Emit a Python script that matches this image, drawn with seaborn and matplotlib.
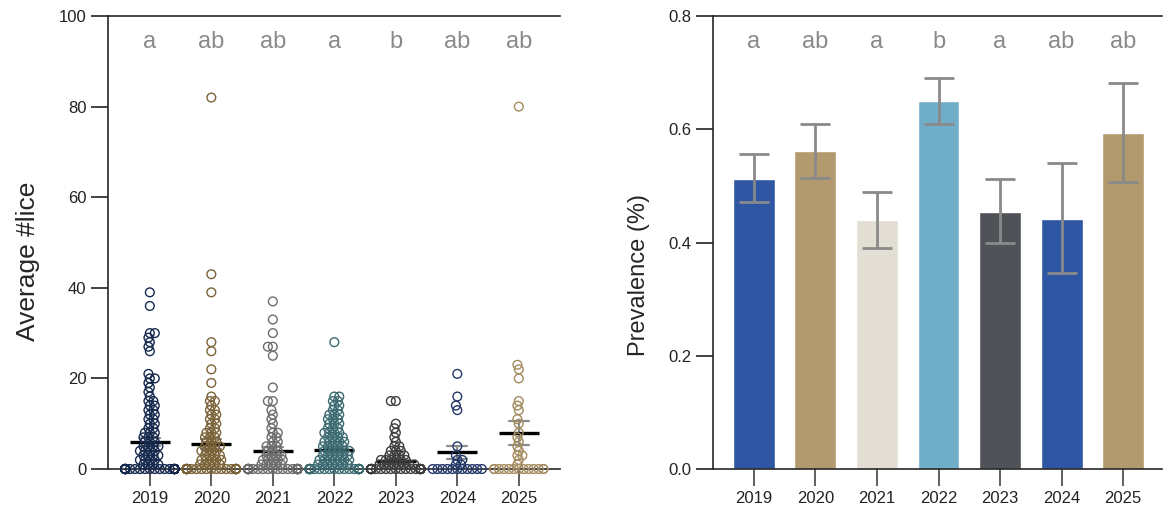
import numpy as np
import pandas as pd
import matplotlib
matplotlib.use("Agg")
import matplotlib.pyplot as plt
import seaborn as sns
import warnings

warnings.filterwarnings("ignore")

# =========================
# DATA
# =========================
years = ["2019", "2020", "2021", "2022", "2023", "2024", "2025"]

# lice counts per fish (zeros counted from the band width)
lice_2019 = [0] * 53 + [39, 36, 30, 30, 29, 28, 27, 26, 21, 20, 20, 19, 18, 17, 16, 15, 15,
                        14, 14, 13, 13, 12, 12, 11, 11, 10, 10, 9, 9, 8, 8, 8, 7, 7, 7,
                        6, 6, 6, 5, 5, 5, 5, 4, 4, 4, 4, 3, 3, 3, 3, 2, 2, 2, 2, 1, 1, 1, 1]
lice_2020 = [0] * 49 + [82, 43, 39, 28, 26, 22, 19, 16, 15, 15, 14, 13, 13, 12, 12, 11, 11,
                        10, 10, 9, 9, 8, 8, 8, 7, 7, 7, 6, 6, 6, 5, 5, 5, 5, 4, 4, 4, 4,
                        3, 3, 3, 3, 2, 2, 2, 2, 2, 1, 1, 1, 1, 1]
lice_2021 = [0] * 55 + [37, 33, 30, 27, 27, 25, 18, 15, 15, 13, 12, 11, 10, 9, 8, 8, 7, 7,
                        6, 6, 5, 5, 5, 4, 4, 4, 3, 3, 3, 3, 2, 2, 2, 2, 2, 1, 1, 1, 1, 1]
lice_2022 = [0] * 42 + [28, 16, 16, 15, 15, 14, 14, 13, 13, 12, 12, 12, 11, 11, 11, 10, 10, 10,
                        9, 9, 9, 8, 8, 8, 8, 7, 7, 7, 7, 6, 6, 6, 6, 6, 5, 5, 5, 5, 5,
                        4, 4, 4, 4, 4, 4, 3, 3, 3, 3, 3, 3, 2, 2, 2, 2, 2, 2, 2,
                        1, 1, 1, 1, 1, 1, 1]
lice_2023 = [0] * 39 + [15, 15, 10, 9, 8, 7, 6, 5, 5, 4, 4, 4, 3, 3, 3, 3, 2, 2, 2, 2, 2, 2,
                        1, 1, 1, 1, 1, 1, 1, 1]
lice_2024 = [0] * 11 + [21, 16, 14, 13, 5, 3, 2, 2, 1, 1]
lice_2025 = [0] * 13 + [80, 23, 22, 20, 15, 14, 13, 11, 10, 8, 7, 6, 5, 4, 3, 3, 2, 1]

letters_left = ["a", "ab", "ab", "a", "b", "ab", "ab"]

# prevalence with error bar ends
prevalence = [0.512, 0.562, 0.440, 0.650, 0.454, 0.442, 0.594]
prev_low = [0.472, 0.514, 0.390, 0.610, 0.400, 0.346, 0.506]
prev_high = [0.556, 0.610, 0.489, 0.690, 0.512, 0.541, 0.682]
letters_right = ["a", "ab", "a", "b", "a", "ab", "ab"]

point_colors = ["#15284d", "#7b6339", "#6d6d6d", "#3b6a71", "#3d3d3d", "#243769", "#a38b5f"]
bar_colors = ["#2e56a3", "#b39a6e", "#e2ded3", "#70aec8", "#4f5257", "#2e56a3", "#b39a6e"]

lice = pd.DataFrame({
    "year": np.repeat(years, [len(v) for v in [lice_2019, lice_2020, lice_2021, lice_2022,
                                                lice_2023, lice_2024, lice_2025]]),
    "lice": lice_2019 + lice_2020 + lice_2021 + lice_2022 + lice_2023 + lice_2024 + lice_2025,
})
prev = pd.DataFrame({"year": years, "prev": prevalence, "lo": prev_low, "hi": prev_high})

# =========================
# STYLE
# =========================
sns.set_style("ticks")
plt.rcParams["font.family"] = ["Liberation Sans", "DejaVu Sans"]
plt.rcParams["axes.linewidth"] = 1.2

fig = plt.figure(figsize=(11.64, 5.15), dpi=100)
ax1 = fig.add_axes([0.0928, 0.0893, 0.3883, 0.8796])
ax2 = fig.add_axes([0.6125, 0.0893, 0.3857, 0.8796])

# =========================
# LEFT: LICE SCATTER
# =========================
# swarm laid out with small markers so columns stay narrow (overlapping like the original)
sns.swarmplot(data=lice, x="year", y="lice", hue="year", palette=point_colors,
              order=years, size=3.4, legend=False, ax=ax1)
ax1.set_ylim(0, 100)
ax1.set_xlim(-0.68, 6.67)
fig.canvas.draw()
for coll in ax1.collections:
    if "draw" in coll.__dict__:
        del coll.draw
    fc = coll.get_facecolor()
    coll.set_facecolor("none")
    coll.set_edgecolor(fc)
    coll.set_linewidth(1.0)
    coll.set_sizes([6.3 ** 2])
    coll.set_clip_on(False)

sns.pointplot(data=lice, x="year", y="lice", order=years, errorbar="se", color="#8c8c8c",
              marker="", linestyle="none", capsize=0.33, err_kws={"linewidth": 1.6}, ax=ax1)
sns.pointplot(data=lice, x="year", y="lice", order=years, errorbar=None, color="black",
              marker="_", markersize=29, markeredgewidth=2.4, linestyle="none", ax=ax1)

ax1.set_ylim(0, 100)
ax1.set_xlim(-0.68, 6.67)
ax1.set_yticks(range(0, 101, 20))
ax1.set_ylabel("Average #lice", fontsize=19)
ax1.yaxis.set_label_coords(-0.150, 0.459)
ax1.set_xlabel("")
for i, t in enumerate(letters_left):
    ax1.text(i, 92.9, t, ha="center", va="baseline", fontsize=17, color="#8a8a8a")

# =========================
# RIGHT: PREVALENCE BARS
# =========================
sns.barplot(data=prev, x="year", y="prev", hue="year", palette=bar_colors, order=years,
            width=0.68, saturation=1, legend=False, ax=ax2)
ax2.errorbar(x=range(len(years)), y=prev["prev"],
             yerr=[prev["prev"] - prev["lo"], prev["hi"] - prev["prev"]],
             fmt="none", ecolor="#8a8a8a", elinewidth=2, capsize=11, capthick=2)

ax2.set_ylim(0, 0.8)
ax2.set_xlim(-0.665, 6.63)
ax2.set_yticks(np.arange(0, 0.81, 0.2))
ax2.set_yticklabels([f"{v:.1f}" for v in np.arange(0, 0.81, 0.2)])
ax2.set_ylabel("Prevalence (%)", fontsize=17)
ax2.yaxis.set_label_coords(-0.140, 0.428)
ax2.set_xlabel("")
for i, t in enumerate(letters_right):
    ax2.text(i, 0.7435, t, ha="center", va="baseline", fontsize=17, color="#8a8a8a")

for ax in (ax1, ax2):
    ax.spines["right"].set_visible(False)
    ax.spines["top"].set_visible(True)
    ax.tick_params(axis="both", length=12, width=1.2, labelsize=12, colors="#222222")
    ax.tick_params(axis="x", length=12, width=1.2, color="#444444")

fig.savefig("out.png", dpi=100)
